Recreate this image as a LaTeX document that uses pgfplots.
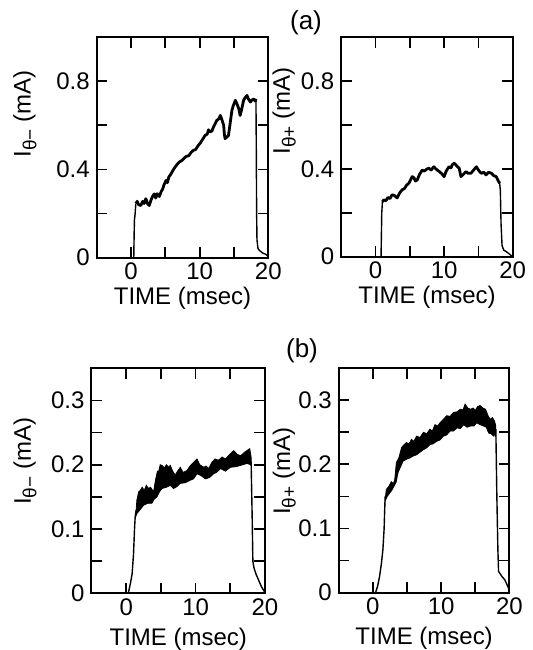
\documentclass[border=0pt]{standalone}
\usepackage{fontspec}
\setmainfont{Liberation Sans}
\usepackage{pgfplots}
\pgfplotsset{compat=1.18}
\newcommand{\lab}{\fontsize{12}{14}\selectfont}
\newcommand{\sub}[1]{\raisebox{-0.45ex}{\fontsize{9.5}{10}\selectfont #1}}
\pgfplotsset{
  panel/.style={
    scale only axis, anchor=north west,
    xmin=-5, xmax=20,
    xtick={0,5,10,15,20}, xticklabels={0,,10,,20},
    tick align=inside, xtick pos=both, ytick pos=both,
    xticklabel pos=lower, yticklabel pos=left,
    major tick length=5.3pt,
    tick style={line width=0.9pt, black},
    axis line style={line width=1pt},
    ticklabel style={font=\lab},
    xticklabel style={yshift=0pt, inner sep=2.5pt},
    label style={font=\lab},
    xlabel={TIME (msec)},
  },
  trace/.style={black, line width=1.4pt, line join=round},
  thin/.style={black, line width=0.7pt, line join=round},
}
\begin{document}
\begin{tikzpicture}
\useasboundingbox (0,0) rectangle (266pt,-325pt);
\node[font=\fontsize{13}{15}\selectfont] at (153pt,-11.5pt) {(a)};
\node[font=\fontsize{13}{15}\selectfont] at (151pt,-175.5pt) {(b)};

% ---------- panel (a) left ----------
\begin{axis}[panel, at={(48.35pt,-18.65pt)}, width=85.8pt, height=110.1pt,
  ymin=0, ymax=1, ytick={0,0.2,0.4,0.6,0.8}, yticklabels={0,,0.4,,0.8},
  ylabel={I\sub{θ−} (mA)},
  ylabel style={at={(axis description cs:-0.385,0.652)}, anchor=base},
  xlabel style={at={(axis description cs:0.5,-0.215)}, anchor=base}]
\addplot[thin] coordinates {(0.4,0) (0.45,0.10) (0.5,0.17) (0.6,0.20) (0.7,0.245)};
\addplot[trace] coordinates {
(0.7,0.245) (0.9,0.255) (1.1,0.24) (1.42,0.236) (1.7,0.255) (1.9,0.245) (2.16,0.267)
(2.4,0.245) (2.65,0.236) (2.9,0.26) (3.1,0.275) (3.38,0.289) (3.6,0.27) (3.8,0.29)
(4.12,0.277) (4.4,0.30) (4.6,0.31) (4.8,0.33) (5.1,0.35) (5.3,0.34) (5.5,0.365)
(5.83,0.38) (6.1,0.395) (6.4,0.41) (6.8,0.426) (7.1,0.435) (7.4,0.44) (7.8,0.453)
(8.1,0.46) (8.4,0.462) (8.8,0.479) (9.1,0.487) (9.4,0.49) (9.8,0.509) (10.1,0.52)
(10.4,0.535) (10.8,0.555) (11.1,0.56) (11.3,0.58) (11.5,0.57) (11.8,0.575) (12.0,0.592)
(12.3,0.61) (12.5,0.623) (12.8,0.63) (13.0,0.645) (13.2,0.63) (13.5,0.6) (13.6,0.56)
(13.7,0.54) (13.9,0.545) (14.2,0.555) (14.4,0.6) (14.7,0.668) (14.9,0.69) (15.2,0.714)
(15.4,0.70) (15.7,0.676) (15.9,0.645) (16.1,0.67) (16.4,0.714) (16.6,0.725) (16.9,0.736)
(17.1,0.72) (17.4,0.706) (17.6,0.715) (17.9,0.72) (18.1,0.71) (18.2,0.72)};
\addplot[thin] coordinates {(18.2,0.72) (18.25,0.5) (18.3,0.2) (18.35,0.08) (18.5,0.04)
(18.8,0.03) (19.2,0.02) (19.6,0.015) (20,0.005)};
\end{axis}

% ---------- panel (a) right ----------
\begin{axis}[panel, at={(170.65pt,-18.65pt)}, width=85.7pt, height=109.7pt,
  ymin=0, ymax=1, ytick={0,0.2,0.4,0.6,0.8}, yticklabels={0,,0.4,,0.8},
  ylabel={I\sub{θ+} (mA)},
  ylabel style={at={(axis description cs:-0.30,0.664)}, anchor=base},
  xlabel style={at={(axis description cs:0.5,-0.215)}, anchor=base}]
\addplot[thin] coordinates {(0.8,0) (0.85,0.1) (0.9,0.2) (1.0,0.25)};
\addplot[trace] coordinates {
(1.0,0.25) (1.18,0.259) (1.5,0.255) (1.8,0.27) (2.1,0.265) (2.4,0.282) (2.7,0.28)
(3.14,0.268) (3.5,0.29) (3.87,0.305) (4.2,0.31) (4.5,0.325) (4.85,0.335) (5.1,0.35)
(5.34,0.365) (5.6,0.36) (5.8,0.345) (6.08,0.35) (6.4,0.375) (6.8,0.395) (7.1,0.39)
(7.5,0.40) (7.8,0.403) (8.1,0.395) (8.5,0.41) (8.8,0.40) (9.0,0.395) (9.3,0.388)
(9.6,0.38) (10.0,0.365) (10.3,0.39) (10.7,0.41) (11.0,0.405) (11.2,0.42) (11.5,0.426)
(11.8,0.415) (12.2,0.403) (12.45,0.365) (12.8,0.375) (13.2,0.388) (13.5,0.38) (13.9,0.38)
(14.3,0.395) (14.7,0.41) (15.0,0.395) (15.4,0.38) (15.8,0.385) (16.1,0.373) (16.5,0.385)
(16.9,0.38) (17.2,0.37) (17.6,0.365) (17.9,0.345) (18.1,0.335)};
\addplot[thin] coordinates {(18.1,0.335) (18.2,0.30) (18.3,0.15) (18.45,0.05) (18.7,0.03)
(19.2,0.02) (19.6,0.01) (20,0)};
\end{axis}

% ---------- panel (b) left ----------
\begin{axis}[panel, at={(45.75pt,-184.15pt)}, width=86.75pt, height=112.5pt,
  ymin=0, ymax=0.35, ytick={0,0.05,0.1,0.15,0.2,0.25,0.3},
  yticklabels={0,,0.1,,0.2,,0.3},
  ylabel={I\sub{θ−} (mA)},
  ylabel style={at={(axis description cs:-0.35,0.586)}, anchor=base},
  xlabel style={at={(axis description cs:0.5,-0.231)}, anchor=base}]
\addplot[thin] coordinates {(0.3,0) (0.6,0.015) (0.85,0.03) (1.05,0.06) (1.2,0.1)
(1.3,0.12) (1.45,0.13)};
\addplot[fill=black, draw=black, line width=0.4pt] coordinates {
(1.4,0.125) (1.54,0.145) (1.8,0.158) (2.02,0.16) (2.3,0.165) (2.6,0.16) (2.9,0.168)
(3.22,0.163) (3.5,0.165) (3.95,0.158) (4.2,0.175) (4.5,0.19) (4.67,0.189) (4.9,0.2)
(5.15,0.199) (5.5,0.195) (5.8,0.2) (6.1,0.196) (6.35,0.199) (6.7,0.19) (7.07,0.184)
(7.4,0.19) (7.79,0.196) (8.2,0.188) (8.76,0.191) (9.2,0.198) (9.72,0.204) (10.2,0.209)
(10.6,0.2) (11.2,0.196) (11.5,0.198) (11.9,0.194) (12.3,0.203) (12.8,0.209) (13.3,0.207)
(13.8,0.212) (14.3,0.209) (15.0,0.217) (15.5,0.222) (16.0,0.216) (16.5,0.214) (17.0,0.219)
(17.4,0.222) (17.8,0.225) (18.0,0.212)
(18.0,0.2) (17.4,0.202) (16.5,0.199) (15.8,0.197) (15.0,0.196) (14.3,0.19) (13.6,0.194)
(13.0,0.188) (12.6,0.186) (12.0,0.18) (11.4,0.178) (10.8,0.183) (10.2,0.186) (9.7,0.178)
(9.24,0.176) (8.5,0.172) (7.79,0.171) (7.3,0.166) (6.83,0.163) (6.35,0.168) (5.8,0.165)
(5.15,0.163) (4.8,0.158) (4.43,0.15) (4.0,0.146) (3.7,0.14) (3.1,0.14) (2.5,0.137)
(2.0,0.13) (1.54,0.124) (1.4,0.12)} -- cycle;
\addplot[thin] coordinates {(18.0,0.205) (18.15,0.12) (18.25,0.05) (18.4,0.04) (18.7,0.03)
(19.1,0.02) (19.5,0.01) (19.9,0.003) (20,0)};
\end{axis}

% ---------- panel (b) right ----------
\begin{axis}[panel, at={(169.35pt,-184.15pt)}, width=85.4pt, height=112.1pt,
  ymin=0, ymax=0.35, ytick={0,0.05,0.1,0.15,0.2,0.25,0.3},
  yticklabels={0,,0.1,,0.2,,0.3},
  ylabel={I\sub{θ+} (mA)},
  ylabel style={at={(axis description cs:-0.285,0.54)}, anchor=base},
  xlabel style={at={(axis description cs:0.5,-0.231)}, anchor=base}]
\addplot[thin] coordinates {(0.4,0) (0.7,0.01) (0.98,0.025) (1.25,0.045) (1.47,0.067)
(1.65,0.1) (1.72,0.125) (1.8,0.15)};
\addplot[fill=black, draw=black, line width=0.4pt] coordinates {
(1.8,0.145) (1.97,0.161) (2.3,0.165) (2.7,0.173) (3.0,0.17) (3.2,0.176) (3.44,0.203)
(3.8,0.21) (4.2,0.226) (4.5,0.23) (4.9,0.234) (5.3,0.232) (5.65,0.239) (6.0,0.236)
(6.4,0.244) (6.9,0.242) (7.4,0.25) (7.9,0.248) (8.35,0.255) (8.7,0.252) (9.1,0.262)
(9.5,0.26) (9.83,0.265) (10.3,0.27) (10.8,0.276) (11.3,0.275) (11.8,0.281) (12.3,0.282)
(12.8,0.286) (13.2,0.285) (13.5,0.294) (13.9,0.288) (14.3,0.286) (14.7,0.288) (15.0,0.284)
(15.3,0.29) (15.7,0.292) (16.1,0.288) (16.5,0.286) (16.9,0.275) (17.2,0.27) (17.5,0.273)
(17.8,0.268) (18.0,0.26)
(18.0,0.25) (17.7,0.244) (17.3,0.248) (16.95,0.249) (16.6,0.258) (16.2,0.26) (15.7,0.262)
(15.2,0.265) (14.8,0.26) (14.3,0.26) (13.8,0.258) (13.3,0.262) (12.8,0.256) (12.3,0.257)
(11.8,0.252) (11.3,0.252) (10.8,0.246) (10.3,0.244) (9.8,0.238) (9.33,0.236) (8.8,0.232)
(8.35,0.231) (7.9,0.226) (7.4,0.223) (6.9,0.219) (6.4,0.215) (5.9,0.213) (5.4,0.21)
(4.9,0.208) (4.42,0.205) (4.0,0.195) (3.68,0.187) (3.4,0.172) (3.2,0.168) (2.8,0.16)
(2.45,0.155) (2.1,0.15) (1.8,0.143)} -- cycle;
\addplot[thin] coordinates {(18.0,0.255) (18.15,0.15) (18.3,0.067) (18.4,0.033) (18.9,0.025)
(19.3,0.02) (19.65,0.012) (20,0.003)};
\end{axis}
\end{tikzpicture}
\end{document}
